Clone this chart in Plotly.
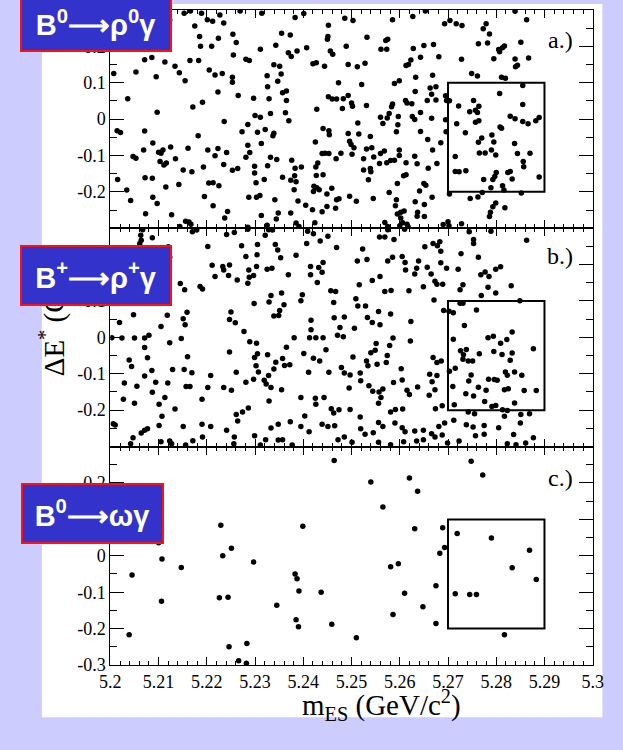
import plotly.graph_objects as go

# ---------------------------------------------------------------------------
# Candidate events: beam-energy-substituted mass m_ES (GeV/c^2) and Delta E* (GeV)
# ---------------------------------------------------------------------------

# B0 -> rho0 gamma
mes_rho0 = [
    5.2123, 5.2153, 5.2166, 5.2189, 5.2175, 5.2201, 5.2212, 5.2227, 5.2235, 5.2269,
    5.2314, 5.2383, 5.2401, 5.2452, 5.2486, 5.2185, 5.2224, 5.2254, 5.2261, 5.2187,
    5.2210, 5.2255, 5.2311, 5.2343, 5.2355, 5.2373, 5.2369, 5.2375, 5.2387, 5.2407,
    5.2451, 5.2450, 5.2456, 5.2461, 5.2489, 5.2071, 5.2086, 5.2113, 5.2134, 5.2143,
    5.2165, 5.2183, 5.2205, 5.2217, 5.2232, 5.2253, 5.2253, 5.2281, 5.2288, 5.2339,
    5.2351, 5.2354, 5.2325, 5.2347, 5.2326, 5.2357, 5.2365, 5.2329, 5.2365, 5.2420,
    5.2427, 5.2444, 5.2493, 5.2473, 5.2007, 5.2053, 5.2095, 5.2155, 5.2223, 5.2265,
    5.2297, 5.2036, 5.2191, 5.2171, 5.2452, 5.2460, 5.2469, 5.2483, 5.2493, 5.2481,
    5.2428, 5.2097, 5.2300, 5.2311, 5.2332, 5.2363, 5.2370, 5.2236, 5.2285, 5.2014,
    5.2021, 5.2071, 5.2182, 5.2273, 5.2305, 5.2321, 5.2339, 5.2337, 5.2441, 5.2453,
    5.2454, 5.2425, 5.2088, 5.2125, 5.2161, 5.2202, 5.2223, 5.2241, 5.2285, 5.2289,
    5.2313, 5.2100, 5.2105, 5.2109, 5.2103, 5.2111, 5.2116, 5.2069, 5.2047, 5.2053,
    5.2135, 5.2217, 5.2235, 5.2253, 5.2264, 5.2281, 5.2299, 5.2299, 5.2326, 5.2332,
    5.2345, 5.2376, 5.2383, 5.2396, 5.2426, 5.2430, 5.2439, 5.2445, 5.2453, 5.2468,
    5.2478, 5.2151, 5.2169, 5.2193, 5.2015, 5.2072, 5.2087, 5.2302, 5.2319, 5.2357,
    5.2382, 5.2385, 5.2374, 5.2427, 5.2441, 5.2204, 5.2213, 5.2225, 5.2115, 5.2142,
    5.2034, 5.2042, 5.2088, 5.2097, 5.2195, 5.2213, 5.2287, 5.2303, 5.2310, 5.2341,
    5.2381, 5.2421, 5.2422, 5.2428, 5.2433, 5.2459, 5.2449, 5.2469, 5.2474, 5.2496,
    5.2389, 5.2405, 5.2419, 5.2439, 5.2449, 5.2467, 5.2073, 5.2127, 5.2243, 5.2237,
    5.2313, 5.2344, 5.2348, 5.2374, 5.2385, 5.2391, 5.2424, 5.2156, 5.2163, 5.2167,
    5.2144, 5.2285, 5.2325,
    5.2503, 5.2585, 5.2627, 5.2653, 5.2693, 5.2704, 5.2717, 5.2729, 5.2779, 5.2773,
    5.2786, 5.2839, 5.2863, 5.2532, 5.2571, 5.2575, 5.2561, 5.2573, 5.2628, 5.2650,
    5.2670, 5.2763, 5.2782, 5.2851, 5.2805, 5.2813, 5.2817, 5.2807, 5.2681, 5.2728,
    5.2795, 5.2839, 5.2867, 5.2623, 5.2643, 5.2613, 5.2618, 5.2840, 5.2844, 5.2512,
    5.2528, 5.2589, 5.2599, 5.2521, 5.2633, 5.2668, 5.2749, 5.2761, 5.2811, 5.2819,
    5.2855, 5.2632, 5.2663, 5.2675, 5.2666, 5.2675, 5.2657, 5.2612, 5.2615, 5.2625,
    5.2695, 5.2697, 5.2703, 5.2500, 5.2502, 5.2531, 5.2585, 5.2583, 5.2578, 5.2574,
    5.2560, 5.2565, 5.2597, 5.2596, 5.2593, 5.2626, 5.2631, 5.2643, 5.2666, 5.2695,
    5.2643, 5.2658, 5.2685, 5.2696, 5.2513, 5.2515, 5.2539, 5.2493, 5.2496, 5.2499,
    5.2505, 5.2501, 5.2531, 5.2542, 5.2525, 5.2546, 5.2558, 5.2560, 5.2568, 5.2573,
    5.2581, 5.2589, 5.2599, 5.2599, 5.2613, 5.2631, 5.2636, 5.2659, 5.2668, 5.2677,
    5.2525, 5.2539, 5.2540, 5.2535, 5.2578, 5.2595, 5.2608, 5.2613, 5.2641, 5.2650,
    5.2654, 5.2667, 5.2510, 5.2545, 5.2593, 5.2591, 5.2602, 5.2609, 5.2595, 5.2602,
    5.2606, 5.2615, 5.2600, 5.2632, 5.2651, 5.2637, 5.2651, 5.2636, 5.2617, 5.2569,
    5.2575, 5.2690, 5.2700, 5.2702, 5.2728, 5.2703, 5.2722, 5.2718, 5.2736, 5.2745,
    5.2753, 5.2757, 5.2761, 5.2764, 5.2764, 5.2757, 5.2763, 5.2770, 5.2765, 5.2777,
    5.2791, 5.2795, 5.2790, 5.2799, 5.2808, 5.2811, 5.2807, 5.2829, 5.2839, 5.2838,
    5.2844, 5.2855, 5.2855, 5.2866, 5.2882, 5.2889, 5.2870, 5.2856, 5.2857, 5.2889,
    5.2715, 5.2715, 5.2723, 5.2737, 5.2774, 5.2789, 5.2793, 5.2800, 5.2797, 5.2813,
    5.2816, 5.2824, 5.2829, 5.2833, 5.2852, 5.2746, 5.2762, 5.2771, 5.2788, 5.2786,
    5.2793, 5.2799, 5.2818,
]
de_rho0 = [
    0.272, 0.291, 0.297, 0.291, 0.256, 0.273, 0.269, 0.286, 0.264, 0.297,
    0.291, 0.279, 0.290, 0.258, 0.277, 0.227, 0.222, 0.233, 0.210, 0.200,
    0.200, 0.176, 0.192, 0.203, 0.236, 0.231, 0.182, 0.172, 0.187, 0.196,
    0.227, 0.219, 0.187, 0.178, 0.200, 0.163, 0.169, 0.157, 0.145, 0.127,
    0.161, 0.161, 0.135, 0.121, 0.125, 0.115, 0.101, 0.164, 0.161, 0.149,
    0.145, 0.124, 0.119, 0.104, 0.089, 0.072, 0.077, 0.056, 0.051, 0.152,
    0.155, 0.145, 0.150, 0.100, 0.125, 0.129, 0.116, 0.105, 0.074, 0.065,
    0.057, 0.056, 0.046, 0.033, 0.061, 0.055, 0.055, 0.056, 0.065, 0.029,
    0.027, 0.019, 0.010, 0.005, 0.015, 0.017, -0.005, -0.007, -0.015, -0.032,
    -0.037, -0.033, -0.046, -0.035, -0.036, -0.029, -0.039, -0.046, -0.026, -0.032,
    -0.043, -0.063, -0.066, -0.077, -0.080, -0.085, -0.081, -0.092, -0.072, -0.092,
    -0.067, -0.091, -0.094, -0.085, -0.117, -0.126, -0.121, -0.085, -0.103, -0.108,
    -0.109, -0.101, -0.125, -0.141, -0.136, -0.105, -0.130, -0.148, -0.128, -0.105,
    -0.111, -0.113, -0.135, -0.132, -0.132, -0.121, -0.095, -0.094, -0.095, -0.109,
    -0.094, -0.140, -0.145, -0.132, -0.166, -0.161, -0.163, -0.175, -0.166, -0.160,
    -0.156, -0.172, -0.168, -0.155, -0.153, -0.176, -0.175, -0.183, -0.187, -0.180,
    -0.195, -0.224, -0.215, -0.232, -0.213, -0.238, -0.215, -0.215, -0.210, -0.222,
    -0.194, -0.199, -0.185, -0.189, -0.194, -0.190, -0.206, -0.222, -0.219, -0.212,
    -0.225, -0.237, -0.249, -0.255, -0.240, -0.245, -0.260, -0.263, -0.254, -0.272,
    -0.265, -0.275, -0.258, -0.258, -0.286, -0.295, -0.285, -0.281, -0.283, -0.289,
    -0.295, -0.297, -0.292,
    0.271, 0.273, 0.282, 0.297, 0.262, 0.271, 0.262, 0.257, 0.262, 0.248,
    0.234, 0.296, 0.273, 0.225, 0.216, 0.219, 0.192, 0.192, 0.194, 0.202,
    0.205, 0.207, 0.209, 0.211, 0.191, 0.196, 0.201, 0.185, 0.171, 0.164,
    0.166, 0.165, 0.168, 0.162, 0.170, 0.147, 0.150, 0.144, 0.148, 0.144,
    0.153, 0.098, 0.105, 0.095, 0.115, 0.120, 0.125, 0.118, 0.115, 0.112,
    0.092, 0.076, 0.085, 0.089, 0.068, 0.052, 0.051, 0.051, 0.044, 0.042,
    0.064, 0.051, 0.050, 0.044, 0.035, 0.037, 0.041, 0.034, 0.015, 0.003,
    0.005, -0.012, 0.007, -0.016, -0.035, 0.007, -0.001, 0.018, 0.002, -0.002,
    -0.034, -0.056, -0.065, -0.035, -0.011, -0.041, -0.048, -0.040, -0.061, -0.070,
    -0.079, -0.097, -0.082, -0.079, -0.109, -0.104, -0.122, -0.095, -0.088, -0.120,
    -0.114, -0.113, -0.085, -0.100, -0.120, -0.102, -0.123, -0.135, -0.085, -0.122,
    -0.140, -0.136, -0.145, -0.167, -0.202, -0.177, -0.156, -0.153, -0.198, -0.177,
    -0.182, -0.215, -0.226, -0.218, -0.222, -0.238, -0.256, -0.253, -0.261, -0.272,
    -0.285, -0.289, -0.293, -0.227, -0.235, -0.256, -0.268, -0.267, -0.295, -0.284,
    -0.295, -0.290, -0.282, -0.293, -0.288, -0.206, 0.036, -0.013, -0.038, 0.020,
    0.051, 0.024, 0.018, 0.035, -0.005, -0.009, -0.064, -0.052, -0.093, -0.093,
    -0.044, -0.063, -0.085, -0.099, -0.022, -0.025, 0.070, 0.008, 0.001, -0.067,
    -0.095, 0.040, -0.007, -0.013, -0.005, 0.004, -0.094, -0.117, -0.131, -0.159,
    -0.103, -0.144, -0.145, -0.142, -0.166, -0.189, -0.166, -0.147, -0.158, -0.183,
    -0.195, -0.147, -0.144, -0.165, -0.203, -0.218, -0.214, -0.202, -0.256, -0.268,
    -0.241, -0.231, -0.244,
]

# B+ -> rho+ gamma
mes_rhop = [
    5.2067, 5.2063, 5.2064, 5.2061, 5.2087, 5.2170, 5.2179, 5.2241, 5.2257, 5.2285,
    5.2321, 5.2328, 5.2336, 5.2409, 5.2421, 5.2407, 5.2435, 5.2451, 5.2469, 5.2415,
    5.2432, 5.2441, 5.2439, 5.2415, 5.2429, 5.2120, 5.2123, 5.2119, 5.2116, 5.2119,
    5.2145, 5.2154, 5.2186, 5.2191, 5.2202, 5.2211, 5.2217, 5.2233, 5.2235, 5.2247,
    5.2245, 5.2263, 5.2272, 5.2281, 5.2287, 5.2288, 5.2297, 5.2285, 5.2303, 5.2304,
    5.2305, 5.2325, 5.2335, 5.2342, 5.2347, 5.2353, 5.2385, 5.2369, 5.2333, 5.2329,
    5.2355, 5.2360, 5.2351, 5.2349, 5.2339, 5.2298, 5.2398, 5.2395, 5.2457, 5.2467,
    5.2463, 5.2464, 5.2485, 5.2476, 5.2471, 5.2483, 5.2416, 5.2416, 5.2413, 5.2426,
    5.2441, 5.2447, 5.2401, 5.2421, 5.2434, 5.2411, 5.2453, 5.2479, 5.2485, 5.2495,
    5.2381, 5.2365, 5.2357, 5.2361, 5.2372, 5.2343, 5.2339, 5.2326, 5.2328, 5.2355,
    5.2319, 5.2323, 5.2333, 5.2329, 5.2307, 5.2305, 5.2299, 5.2302, 5.2297, 5.2281,
    5.2289, 5.2303, 5.2277, 5.2250, 5.2247, 5.2259, 5.2247, 5.2261, 5.2251, 5.2235,
    5.2208, 5.2202, 5.2190, 5.2151, 5.2155, 5.2159, 5.2147, 5.2160, 5.2153, 5.2169,
    5.2157, 5.2165, 5.2129, 5.2123, 5.2118, 5.2105, 5.2086, 5.2087, 5.2094, 5.2113,
    5.2119, 5.2134, 5.2071, 5.2071, 5.2080, 5.2077, 5.2071, 5.2055, 5.2048, 5.2050,
    5.2039, 5.2044, 5.2029, 5.2027, 5.2050, 5.2019, 5.2003, 5.2024, 5.2006, 5.2010,
    5.2101, 5.2107, 5.2101, 5.2047, 5.2042, 5.2064, 5.2071, 5.2077, 5.2105, 5.2123,
    5.2127, 5.2151, 5.2156, 5.2171, 5.2190, 5.2191, 5.2208, 5.2241, 5.2257, 5.2256,
    5.2261, 5.2264, 5.2274, 5.2286, 5.2299, 5.2311, 5.2322, 5.2333, 5.2348, 5.2348,
    5.2357, 5.2373, 5.2377, 5.2395, 5.2403, 5.2412, 5.2395, 5.2425, 5.2426, 5.2443,
    5.2458, 5.2463, 5.2474, 5.2439, 5.2451, 5.2465, 5.2472, 5.2485,
    5.2558, 5.2569, 5.2588, 5.2575, 5.2610, 5.2652, 5.2669, 5.2678, 5.2683, 5.2685,
    5.2744, 5.2753, 5.2753, 5.2789, 5.2863, 5.2523, 5.2512, 5.2532, 5.2575, 5.2585,
    5.2605, 5.2611, 5.2612, 5.2635, 5.2639, 5.2631, 5.2657, 5.2665, 5.2673, 5.2677,
    5.2689, 5.2685, 5.2697, 5.2721, 5.2727, 5.2763, 5.2768, 5.2777, 5.2785, 5.2783,
    5.2799, 5.2809, 5.2799, 5.2831, 5.2769, 5.2725, 5.2731, 5.2516, 5.2543, 5.2559,
    5.2569, 5.2582, 5.2619, 5.2649, 5.2671, 5.2509, 5.2513, 5.2529, 5.2533, 5.2543,
    5.2556, 5.2559, 5.2581, 5.2506, 5.2623, 5.2622, 5.2691, 5.2702, 5.2711, 5.2725,
    5.2731, 5.2759, 5.2734, 5.2711, 5.2726, 5.2732, 5.2731, 5.2738, 5.2742, 5.2751,
    5.2765, 5.2783, 5.2794, 5.2795, 5.2809, 5.2822, 5.2833, 5.2833, 5.2829, 5.2812,
    5.2877, 5.2849, 5.2503, 5.2531, 5.2534, 5.2540, 5.2549, 5.2551, 5.2553, 5.2572,
    5.2574, 5.2579, 5.2586, 5.2603, 5.2587, 5.2605, 5.2615, 5.2620, 5.2637, 5.2661,
    5.2662, 5.2667, 5.2673, 5.2677, 5.2677, 5.2686, 5.2669, 5.2703, 5.2715, 5.2710,
    5.2737, 5.2748, 5.2743, 5.2753, 5.2763, 5.2779, 5.2784, 5.2796, 5.2802, 5.2819,
    5.2823, 5.2838, 5.2853, 5.2817, 5.2825, 5.2858, 5.2883, 5.2742, 5.2755, 5.2776,
    5.2791, 5.2799, 5.2813, 5.2823, 5.2838, 5.2851, 5.2850, 5.2869, 5.2713, 5.2688,
    5.2674, 5.2497, 5.2518, 5.2519, 5.2536, 5.2544, 5.2557, 5.2561, 5.2565, 5.2556,
    5.2518, 5.2497, 5.2581, 5.2591, 5.2606, 5.2519, 5.2528, 5.2545, 5.2556, 5.2565,
    5.2590, 5.2605, 5.2611, 5.2631, 5.2635, 5.2649, 5.2649, 5.2666, 5.2673, 5.2681,
    5.2688, 5.2693, 5.2712, 5.2699, 5.2723, 5.2738, 5.2752, 5.2757, 5.2775, 5.2775,
    5.2805, 5.2817, 5.2836, 5.2823, 5.2841, 5.2861, 5.2877, 5.2501, 5.2556, 5.2581,
    5.2608,
]
de_rhop = [
    0.296, 0.281, 0.267, 0.258, 0.274, 0.290, 0.295, 0.283, 0.288, 0.297,
    0.281, 0.296, 0.295, 0.292, 0.285, 0.258, 0.265, 0.278, 0.247, 0.195,
    0.192, 0.206, 0.179, 0.172, 0.151, 0.249, 0.220, 0.199, 0.167, 0.143,
    0.148, 0.131, 0.140, 0.133, 0.250, 0.198, 0.167, 0.195, 0.185, 0.199,
    0.170, 0.158, 0.252, 0.222, 0.185, 0.165, 0.170, 0.149, 0.195, 0.227,
    0.255, 0.187, 0.190, 0.255, 0.240, 0.219, 0.226, 0.172, 0.115, 0.097,
    0.122, 0.090, 0.074, 0.060, 0.059, 0.093, 0.117, 0.101, 0.128, 0.126,
    0.096, 0.054, 0.056, 0.027, 0.006, 0.002, 0.047, 0.021, -0.001, -0.001,
    -0.001, -0.034, -0.044, -0.057, -0.065, -0.096, -0.096, -0.083, -0.098, -0.139,
    -0.001, -0.027, -0.058, -0.077, -0.075, -0.068, -0.087, -0.048, -0.105, -0.144,
    -0.118, -0.128, -0.138, -0.175, -0.095, -0.045, -0.055, -0.078, -0.115, -0.123,
    -0.012, -0.016, 0.016, 0.070, 0.049, 0.040, -0.040, -0.096, -0.145, -0.138,
    -0.105, -0.138, -0.170, 0.051, 0.035, 0.069, -0.003, -0.053, -0.088, -0.097,
    -0.135, -0.135, -0.088, -0.015, 0.061, 0.030, -0.091, -0.151, -0.123, -0.165,
    -0.125, -0.197, -0.002, -0.028, 0.006, -0.056, -0.106, -0.134, 0.062, -0.002,
    -0.062, -0.080, -0.125, -0.170, -0.181, 0.041, -0.001, -0.002, -0.237, -0.241,
    -0.184, -0.217, -0.242, -0.276, -0.292, -0.263, -0.255, -0.251, -0.287, -0.285,
    -0.292, -0.245, -0.296, -0.284, -0.239, -0.274, -0.245, -0.255, -0.274, -0.292,
    -0.212, -0.230, -0.205, -0.194, -0.270, -0.296, -0.281, -0.249, -0.239, -0.282,
    -0.281, -0.232, -0.296, -0.245, -0.216, -0.259, -0.165, -0.167, -0.184, -0.165,
    -0.196, -0.208, -0.199, -0.239, -0.245, -0.243, -0.281, -0.274,
    0.276, 0.276, 0.269, 0.296, 0.297, 0.249, 0.258, 0.252, 0.263, 0.237,
    0.290, 0.269, 0.258, 0.292, 0.267, 0.243, 0.210, 0.214, 0.210, 0.220,
    0.222, 0.206, 0.185, 0.190, 0.210, 0.174, 0.193, 0.174, 0.154, 0.146,
    0.146, 0.205, 0.190, 0.187, 0.230, 0.220, 0.172, 0.180, 0.167, 0.138,
    0.122, 0.194, 0.187, 0.142, 0.115, 0.131, 0.145, 0.145, 0.156, 0.167,
    0.126, 0.129, 0.128, 0.139, 0.103, 0.106, 0.086, 0.086, 0.055, 0.041,
    0.071, 0.035, 0.064, 0.025, 0.044, -0.010, 0.074, 0.072, 0.068, 0.094,
    0.094, 0.075, 0.033, -0.005, -0.037, -0.048, -0.060, -0.033, -0.065, -0.065,
    -0.045, -0.001, 0.003, -0.039, -0.016, -0.006, 0.015, -0.043, -0.063, -0.047,
    -0.031, 0.101, -0.054, -0.065, -0.078, -0.042, -0.035, -0.017, -0.074, -0.069,
    -0.050, -0.022, -0.002, -0.086, -0.124, -0.117, -0.145, -0.157, -0.136, -0.159,
    -0.101, -0.122, -0.144, -0.105, -0.069, -0.065, -0.055, -0.093, -0.085, -0.135,
    -0.155, -0.103, -0.120, -0.161, -0.137, -0.145, -0.115, -0.116, -0.118, -0.095,
    -0.104, -0.095, -0.104, -0.144, -0.141, -0.146, -0.146, -0.205, -0.210, -0.176,
    -0.190, -0.187, -0.199, -0.201, -0.180, -0.212, -0.235, -0.210, -0.185, -0.188,
    -0.196, -0.103, -0.098, -0.119, -0.133, -0.148, -0.150, -0.165, -0.142, -0.181,
    -0.219, -0.198, -0.205, -0.198, -0.197, -0.251, -0.266, -0.262, -0.234, -0.245,
    -0.235, -0.248, -0.259, -0.257, -0.285, -0.255, -0.281, -0.265, -0.274, -0.245,
    -0.268, -0.235, -0.228, -0.290, -0.285, -0.240, -0.246, -0.270, -0.266, -0.242,
    -0.248, -0.217, -0.267, -0.292, -0.295, -0.290, -0.276, -0.288, -0.288, -0.295,
    -0.287,
]

# B0 -> omega gamma
mes_omega = [
    5.2039, 5.2045, 5.2100, 5.2107, 5.2106, 5.2147, 5.2229, 5.2233, 5.2251, 5.2226,
    5.2244, 5.2246, 5.2266, 5.2282, 5.2283, 5.2297, 5.2345, 5.2383, 5.2387, 5.2391,
    5.2385, 5.2390, 5.2399, 5.2437, 5.2459, 5.2464, 5.2510, 5.2540, 5.2565, 5.2581,
    5.2586, 5.2597, 5.2610, 5.2620, 5.2631, 5.2637, 5.2648, 5.2675, 5.2675, 5.2683,
    5.2689, 5.2693, 5.2715, 5.2719, 5.2745, 5.2759, 5.2748, 5.2772, 5.2790, 5.2817,
    5.2833, 5.2869, 5.2883,
]
de_omega = [
    -0.217, -0.053, 0.036, -0.009, -0.125, -0.032, 0.084, 0.000, 0.021, -0.115,
    -0.114, -0.250, -0.288, -0.295, -0.241, -0.017, -0.136, -0.050, -0.063, -0.097,
    -0.176, -0.195, 0.081, -0.100, -0.188, 0.262, -0.225, 0.203, 0.134, -0.030,
    -0.161, -0.022, -0.103, 0.214, 0.074, 0.177, -0.140, -0.082, -0.186, 0.007,
    0.077, 0.023, -0.104, 0.061, -0.106, -0.106, 0.260, 0.222, 0.049, -0.217,
    -0.033, 0.015, -0.065,
]

# Signal region drawn as a box in every panel
signal_mes = [5.27, 5.29]
signal_de = [-0.2, 0.1]

# Axis ticks and labels
mes_ticks = [5.20, 5.21, 5.22, 5.23, 5.24, 5.25, 5.26, 5.27, 5.28, 5.29, 5.30]
mes_labels = ["5.2", "5.21", "5.22", "5.23", "5.24", "5.25", "5.26", "5.27", "5.28", "5.29", "5.3"]
de_ticks = [-0.3, -0.2, -0.1, 0.0, 0.1, 0.2]
de_labels = ["-0.3", "-0.2", "-0.1", "0", "0.1", "0.2"]
de_minor = [-0.25, -0.15, -0.05, 0.05, 0.15, 0.25]
mes_minor = [round(5.2 + 0.002 * i, 3) for i in range(51) if i % 5]

panels = [
    ("a.)", "B<sup>0</sup>⟶ρ<sup>0</sup>γ", mes_rho0, de_rho0),
    ("b.)", "B<sup>+</sup>⟶ρ<sup>+</sup>γ", mes_rhop, de_rhop),
    ("c.)", "B<sup>0</sup>⟶ωγ", mes_omega, de_omega),
]

# ---------------------------------------------------------------------------
# Layout geometry (pixels on a 623 x 750 page)
# ---------------------------------------------------------------------------
W, H = 623, 750
def px(x):
    return x / W
def py(y):
    return 1 - y / H

frame_left, frame_right = 103, 603
panel_edges = [10, 231.3, 452.6, 674]
serif = "Liberation Serif, Times New Roman, serif"

fig = go.Figure()

axis_common = dict(
    showline=True, linecolor="black", linewidth=1, mirror="ticks",
    ticks="inside", tickcolor="black", tickwidth=1,
    showgrid=False, zeroline=False,
    tickfont=dict(family=serif, size=18, color="black"),
)

layout_axes = {}
for i, (letter, label, xs, ys) in enumerate(panels):
    n = "" if i == 0 else str(i + 1)
    top, bottom = panel_edges[i], panel_edges[i + 1]
    is_last = i == len(panels) - 1
    layout_axes["xaxis" + n] = dict(
        axis_common,
        domain=[px(frame_left), px(frame_right)],
        range=[5.2, 5.3], anchor="y" + n,
        tickvals=mes_ticks, ticktext=mes_labels, ticklen=8,
        showticklabels=is_last,
        minor=dict(tickvals=mes_minor, ticklen=4, ticks="inside",
                   tickcolor="black", tickwidth=1, showgrid=False),
    )
    yt = de_ticks if is_last else de_ticks[1:]
    yl = de_labels if is_last else de_labels[1:]
    layout_axes["yaxis" + n] = dict(
        axis_common,
        domain=[py(bottom), py(top)],
        range=[-0.3, 0.3], anchor="x" + n,
        tickvals=yt, ticktext=yl, ticklen=14,
        minor=dict(tickvals=de_minor, ticklen=7, ticks="inside",
                   tickcolor="black", tickwidth=1, showgrid=False),
    )
    fig.add_trace(go.Scatter(
        x=xs, y=ys, mode="markers", xaxis="x" + n, yaxis="y" + n,
        marker=dict(size=5.5, color="black", line=dict(width=0)),
        showlegend=False, hoverinfo="x+y",
    ))
    fig.add_shape(type="rect", xref="x" + n, yref="y" + n,
                  x0=signal_mes[0], x1=signal_mes[1],
                  y0=signal_de[0], y1=signal_de[1],
                  line=dict(color="black", width=2), fillcolor="rgba(0,0,0,0)")

# White page behind the plots
fig.add_shape(type="rect", xref="paper", yref="paper", layer="below",
              x0=px(32), x1=px(613), y0=py(727), y1=py(4),
              fillcolor="white", line=dict(width=0))

annotations = []
# Panel letters
for (letter, _, _, _), yc in zip(panels, [41, 259, 484]):
    annotations.append(dict(
        text=letter, xref="paper", yref="paper", x=px(569.5), y=py(yc),
        xanchor="center", yanchor="middle", showarrow=False,
        font=dict(family=serif, size=24, color="black")))

# Axis titles
annotations.append(dict(
    text="m<sub>ES</sub> (GeV/c<sup>2</sup>)", xref="paper", yref="paper",
    x=px(384), y=py(715), xanchor="center", yanchor="middle", showarrow=False,
    font=dict(family=serif, size=29, color="black")))
annotations.append(dict(
    text="ΔE<sup>*</sup> (GeV)", xref="paper", yref="paper",
    x=px(43), y=py(316), xanchor="center", yanchor="middle", showarrow=False,
    textangle=-90, font=dict(family=serif, size=29, color="black")))

# Decay-mode badges
badge_boxes = [(9, -6, 152, 58), (9, 248, 152, 61), (10, 490, 143, 61)]
for (_, label, _, _), (bx, by, bw, bh) in zip(panels, badge_boxes):
    annotations.append(dict(
        text="<b>" + label + "</b>", xref="paper", yref="paper",
        x=px(bx), y=py(by), xanchor="left", yanchor="top", showarrow=False,
        width=bw - 4, height=bh - 4, align="center", valign="middle",
        bgcolor="#3333cc", bordercolor="#ff1010", borderwidth=2, borderpad=0,
        font=dict(family="Liberation Sans, Arial, sans-serif", size=29, color="white")))

fig.update_layout(
    width=W, height=H, autosize=False,
    margin=dict(l=0, r=0, t=0, b=0),
    paper_bgcolor="#ccccff", plot_bgcolor="white",
    annotations=annotations,
    **layout_axes,
)

fig.write_html("out.html")
